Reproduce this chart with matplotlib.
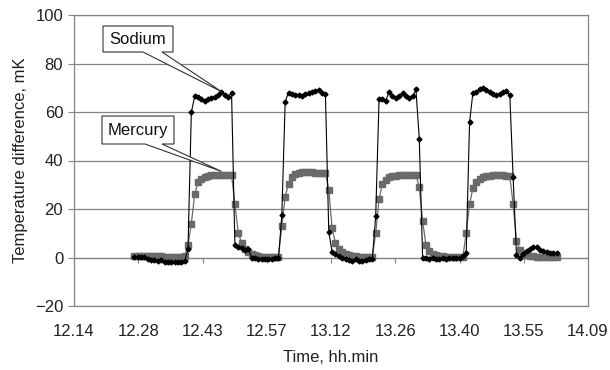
import matplotlib.pyplot as plt
from matplotlib.patches import Polygon
from matplotlib.transforms import IdentityTransform

plt.rcParams['font.family'] = ['Liberation Sans', 'DejaVu Sans']

# elapsed time since 12.14, minutes
time_min = [
    13.5, 14.25, 15.0, 15.75, 16.5, 17.25, 18.0, 18.75,
    19.5, 20.25, 21.0, 21.75, 22.5, 23.25, 24.0, 24.75,
    25.5, 26.25, 27.0, 27.75, 28.5, 29.25, 30.0, 30.75,
    31.5, 32.25, 33.0, 33.75, 34.5, 35.25, 36.0, 36.75,
    37.5, 38.25, 39.0, 39.75, 40.5, 41.25, 42.0, 42.75,
    43.5, 44.25, 45.0, 45.75, 46.5, 47.25, 48.0, 48.75,
    49.5, 50.25, 51.0, 51.75, 52.5, 53.25, 54.0, 54.75,
    55.5, 56.25, 57.0, 57.75, 58.5, 59.25, 60.0, 60.75,
    61.5, 62.25, 63.0, 63.75, 64.5, 65.25, 66.0, 66.75,
    67.5, 68.25, 69.0, 69.75, 70.5, 71.25, 72.0, 72.75,
    73.5, 74.25, 75.0, 75.75, 76.5, 77.25, 78.0, 78.75,
    79.5, 80.25, 81.0, 81.75, 82.5, 83.25, 84.0, 84.75,
    85.5, 86.25, 87.0, 87.75, 88.5, 89.25, 90.0, 90.75,
    91.5, 92.25, 93.0, 93.75, 94.5, 95.25, 96.0, 96.75,
    97.5, 98.25, 99.0, 99.75, 100.5, 101.25, 102.0, 102.75,
    103.5, 104.25, 105.0, 105.75, 106.5, 107.25, 108.0]

sodium = [
    0.3, 0.3, 0.2, 0.2, -0.5, -0.9, -1.0, -1.6,
    -1.2, -1.9, -2.0, -2.0, -2.0, -2.0, -2.0, -1.6,
    3.3, 59.8, 66.4, 66.0, 65.2, 64.7, 65.2, 65.6,
    66.2, 67.0, 68.4, 67.2, 66.2, 68.0, 5.0, 4.5,
    4.0, 3.2, 3.7, 0.0, -0.4, -0.6, -0.8, -0.7,
    -0.5, -0.6, -0.4, -0.4, 17.7, 64.3, 68.0, 67.4,
    67.1, 67.0, 66.8, 67.5, 67.8, 68.2, 68.8, 68.9,
    68.0, 67.5, 10.7, 2.2, 1.6, 0.8, 0.0, -0.6,
    -1.2, -1.6, -0.8, -1.5, -1.6, -1.0, -0.8, -0.5,
    17.0, 65.2, 65.2, 64.7, 68.4, 66.4, 65.6, 66.6,
    68.0, 66.8, 65.6, 66.4, 69.3, 49.0, 0.0, -0.3,
    -0.5, -0.3, -0.5, -0.6, -0.4, -0.5, -0.3, -0.4,
    -0.3, -0.2, 0.5, 2.0, 55.7, 68.0, 68.3, 69.5,
    70.0, 69.0, 68.2, 67.6, 67.2, 67.6, 68.2, 68.6,
    67.2, 33.0, 1.0, -0.4, 1.6, 2.5, 3.5, 4.2,
    4.5, 3.0, 2.5, 2.3, 2.0, 2.0, 1.8]

mercury = [
    0.8, 0.8, 0.8, 0.8, 0.7, 0.7, 0.6, 0.5,
    0.5, 0.4, 0.4, 0.3, 0.3, 0.3, 0.3, 0.8,
    5.0, 14.0, 26.0, 31.0, 32.5, 33.2, 33.6, 33.9,
    34.0, 34.1, 34.1, 34.1, 34.1, 34.0, 22.0, 10.0,
    6.0, 3.5, 2.2, 1.4, 0.9, 0.6, 0.4, 0.3,
    0.3, 0.3, 0.3, 0.4, 13.0, 25.0, 30.5, 33.0,
    34.3, 35.0, 35.3, 35.4, 35.3, 35.2, 35.0, 34.9,
    34.8, 34.7, 28.0, 12.0, 6.0, 3.5, 2.2, 1.5,
    1.0, 0.7, 0.5, 0.4, 0.3, 0.3, 0.3, 0.3,
    10.0, 24.0, 30.5, 32.0, 33.0, 33.5, 33.8, 34.0,
    34.1, 34.1, 34.1, 34.0, 34.0, 29.0, 15.0, 5.0,
    2.5, 1.5, 1.0, 0.7, 0.5, 0.4, 0.3, 0.3,
    0.3, 0.3, 0.3, 10.0, 22.0, 28.5, 31.0, 32.3,
    33.0, 33.5, 33.8, 33.9, 33.9, 33.9, 33.9, 33.8,
    33.5, 22.0, 7.0, 3.0, 1.8, 1.2, 0.8, 0.5,
    0.3, 0.3, 0.3, 0.3, 0.3, 0.3, 0.3]

x_ticks = [0, 14.375, 28.75, 43.125, 57.5, 71.875, 86.25, 100.625, 115]
x_labels = ['12.14', '12.28', '12.43', '12.57', '13.12', '13.26', '13.40', '13.55', '14.09']
y_ticks = [-20, 0, 20, 40, 60, 80, 100]

W, H = 610, 370
GRAY = '#858585'
FS = 12

fig = plt.figure(figsize=(W / 100, H / 100), dpi=100)
ax = fig.add_axes([74 / W, 1 - 306 / H, 514 / W, 291 / H])

ax.plot(time_min, mercury, color='#6a6a6a', lw=0.9, marker='s', ms=4.2,
        mec='#6a6a6a', mfc='#6a6a6a', zorder=3)
ax.plot(time_min, sodium, color='black', lw=0.8, marker='D', ms=2.5,
        mec='black', mfc='black', zorder=4)

ax.set_xlim(0, 115)
ax.set_ylim(-20, 100)
ax.set_yticks(y_ticks)
ax.set_xticks(x_ticks)
ax.set_xticklabels(x_labels)
ax.tick_params(axis='x', length=0, pad=13, labelsize=FS, colors='#222222')
ax.tick_params(axis='y', length=4.3, width=0.8, color=GRAY, pad=3.5,
               labelsize=FS, labelcolor='#222222')
ax.yaxis.grid(True, color=GRAY, lw=0.9, zorder=0)
ax.set_axisbelow(True)
for s in ax.spines.values():
    s.set_color(GRAY)
    s.set_linewidth(0.9)

# category axis crossing at zero, ticks pointing down
sec = ax.secondary_xaxis(20 / 120)
sec.set_xticks(x_ticks)
sec.set_xticklabels([])
sec.tick_params(length=3.6, width=0.8, color=GRAY, direction='out')
sec.spines['bottom'].set_color(GRAY)
sec.spines['bottom'].set_linewidth(0.9)

ax.set_xlabel('Time, hh.min', fontsize=FS, color='#222222', labelpad=8)
ax.set_ylabel('Temperature difference, mK', fontsize=FS, color='#222222', labelpad=5)


def callout(label, box, base, tip):
    # box: (left, top, right, bottom) in image pixels, base: wedge x range on box bottom
    fig.canvas.draw()
    tx, ty = ax.transData.transform(tip)
    x0, t, x1, b = box
    verts = [(x0, H - t), (x1, H - t), (x1, H - b), (base[1], H - b),
             (tx, ty), (base[0], H - b), (x0, H - b)]
    poly = Polygon(verts, closed=True, fc='white', ec='#333333', lw=0.8,
                   transform=IdentityTransform(), zorder=2)
    fig.patches.append(poly)
    fig.text((x0 + x1) / 2 / W, 1 - (t + b) / 2 / H, label, fontsize=FS,
             ha='center', va='center', color='#111111', zorder=5)


callout('Sodium', (103, 26, 173, 52), (143, 162), (time_min[26], sodium[26]))
callout('Mercury', (102, 116, 174, 144), (145, 162), (time_min[26], 35.5))

fig.savefig('out.png', dpi=100)
